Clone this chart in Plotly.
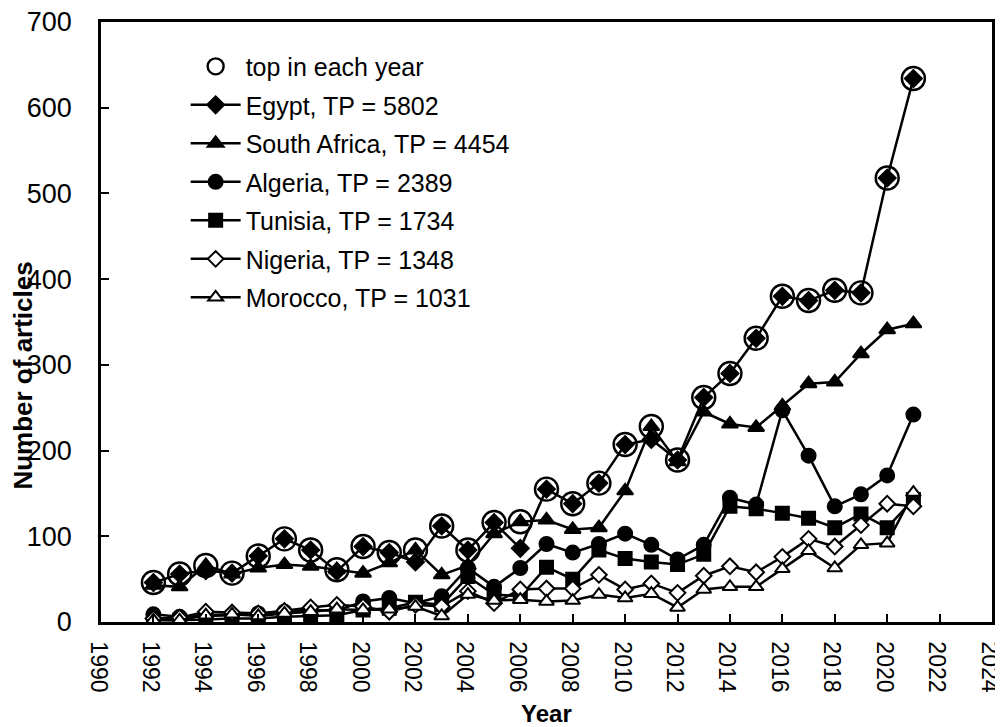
import plotly.graph_objects as go

years = list(range(1992, 2022))

egypt = [46, 56, 60, 57, 77, 97, 84, 59, 88, 81, 70, 112, 84, 116, 86, 155, 138, 162, 207, 213,
         189, 262, 290, 331, 380, 375, 387, 384, 518, 634]
south_africa = [43, 41, 66, 56, 63, 67, 65, 61, 57, 69, 84, 55, 66, 103, 117, 119, 108, 110, 153, 228,
                187, 245, 231, 227, 252, 278, 280, 313, 341, 348]
algeria = [9, 6, 7, 8, 10, 12, 14, 13, 24, 28, 22, 30, 63, 41, 63, 91, 81, 91, 103, 90,
           73, 90, 145, 137, 247, 194, 135, 149, 171, 242]
tunisia = [3, 2, 3, 4, 4, 6, 7, 8, 14, 16, 23, 20, 53, 32, 30, 64, 50, 84, 74, 70,
           67, 79, 135, 132, 127, 121, 110, 126, 110, 143]
nigeria = [4, 5, 12, 11, 10, 13, 17, 20, 18, 12, 20, 18, 36, 22, 38, 39, 39, 55, 38, 45,
           34, 54, 65, 58, 76, 97, 88, 113, 138, 135]
morocco = [2, 2, 8, 9, 7, 10, 12, 15, 14, 15, 18, 7, 32, 25, 26, 24, 25, 32, 28, 33,
           17, 38, 41, 41, 62, 83, 63, 90, 92, 151]

series_names = ["Egypt, TP = 5802", "South Africa, TP = 4454", "Algeria, TP = 2389",
                "Tunisia, TP = 1734", "Nigeria, TP = 1348", "Morocco, TP = 1031"]
series_values = [egypt, south_africa, algeria, tunisia, nigeria, morocco]
series_symbols = ["diamond", "triangle-up", "circle", "square", "diamond", "triangle-up"]
series_fill = ["black", "black", "black", "black", "white", "white"]
series_sizes = [13, 14, 14, 13, 12, 13]

top_values = [max(v) for v in zip(*series_values)]

FONT = "Liberation Sans, Arial, sans-serif"

fig = go.Figure()

fig.add_trace(go.Scatter(
    x=years, y=top_values, mode="markers", name="top in each year",
    marker=dict(symbol="circle-open", size=23, color="black", line=dict(width=2.4, color="black")),
    legendgroup="g0",
))

for i, (name, vals, sym, fill, sz) in enumerate(zip(series_names, series_values, series_symbols,
                                                   series_fill, series_sizes)):
    fig.add_trace(go.Scatter(
        x=years, y=vals, mode="lines+markers", name=name,
        line=dict(color="black", width=2.5),
        marker=dict(symbol=sym, size=sz, color=fill, line=dict(color="black", width=2)),
        legendgroup=f"g{i+1}",
    ))

fig.update_layout(
    width=995, height=719,
    margin=dict(l=93, r=11, t=14, b=105, autoexpand=False),
    paper_bgcolor="white", plot_bgcolor="white",
    font=dict(family=FONT, size=25, color="black"),
    showlegend=True,
    legend=dict(x=0.095, y=0.964, xanchor="left", yanchor="top", itemwidth=50,
                bgcolor="rgba(0,0,0,0)", font=dict(size=25, family=FONT, color="black"),
                tracegroupgap=3),
    xaxis=dict(range=[1990, 2024], dtick=2, tick0=1990, tickangle=90,
               ticks="inside", ticklen=8, tickwidth=2, tickcolor="black",
               showline=True, linewidth=2.5, linecolor="black", mirror=True,
               showgrid=False, zeroline=False, ticklabelstandoff=12,
               ticklabelshift=-3,
               ticklabeloverflow="allow", automargin=False,
               tickfont=dict(size=23, family=FONT, color="black")),
    yaxis=dict(range=[0, 700], dtick=100, tick0=0,
               ticks="inside", ticklen=8, tickwidth=2, tickcolor="black",
               showline=True, linewidth=2.5, linecolor="black", mirror=True,
               showgrid=False, zeroline=False, ticklabelstandoff=21,
               ticklabeloverflow="allow", automargin=False,
               tickfont=dict(size=27, family=FONT, color="black")),
    annotations=[
        dict(text="<b>Year</b>", xref="paper", yref="paper", x=0.5, y=-0.153,
             xanchor="center", yanchor="middle", showarrow=False,
             font=dict(size=24, family=FONT, color="black")),
        dict(text="<b>Number of articles</b>", xref="paper", yref="paper", x=-0.088, y=0.41,
             xanchor="center", yanchor="middle", textangle=-90, showarrow=False,
             font=dict(size=26, family=FONT, color="black")),
    ],
)

fig.write_html("out.html")
